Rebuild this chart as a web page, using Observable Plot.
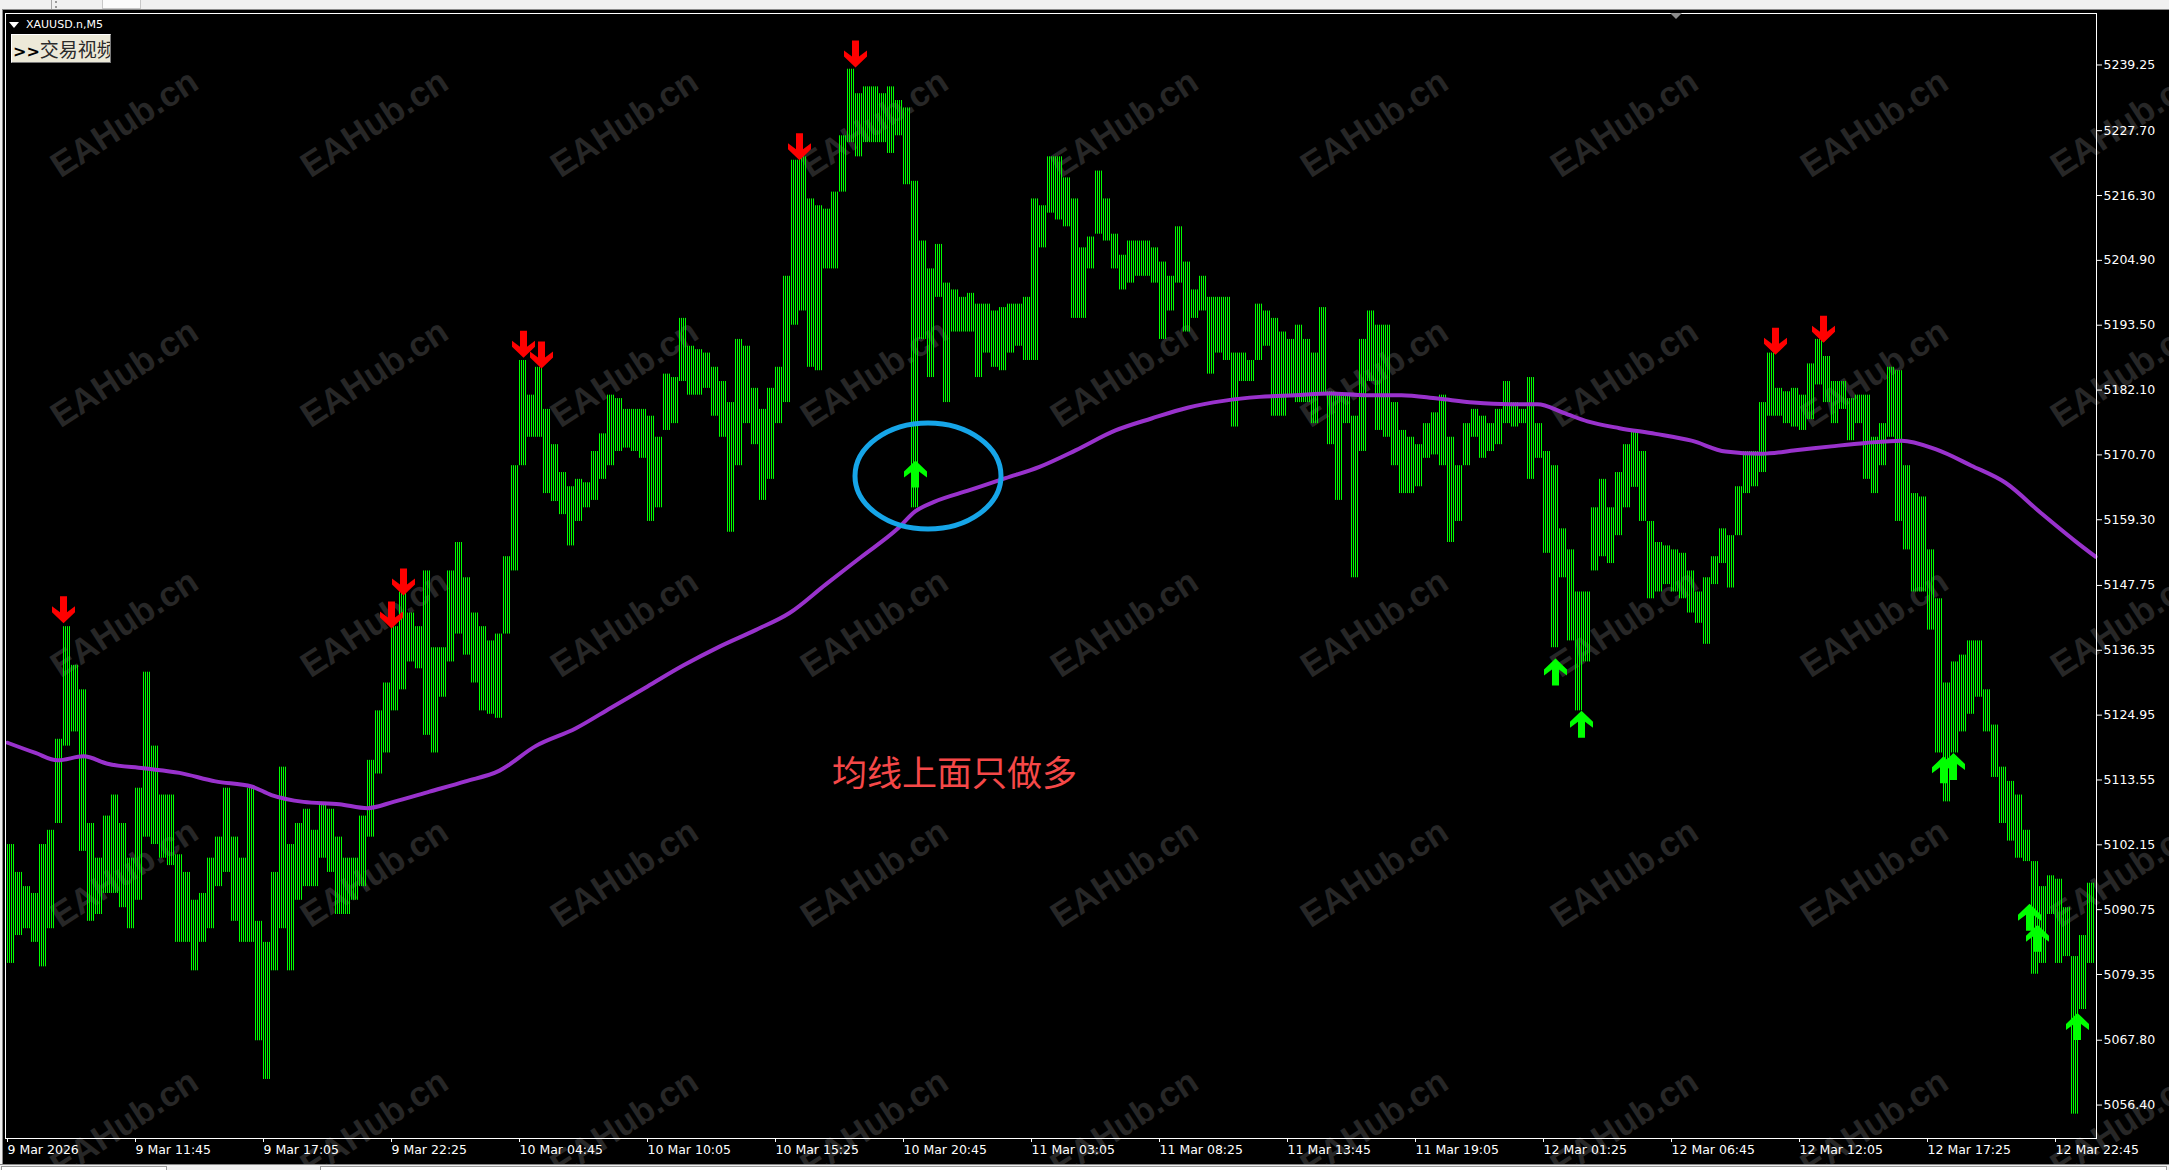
<!DOCTYPE html>
<html>
<head>
<meta charset="utf-8">
<script src="https://cdn.jsdelivr.net/npm/d3@7"></script>
<script src="https://cdn.jsdelivr.net/npm/@observablehq/plot@0.6"></script>
<style>
  html, body { margin: 0; padding: 0; background: #000; }
  body { width: 2169px; height: 1170px; overflow: hidden; position: relative; font-family: "DejaVu Sans", sans-serif; }
  #wm { position: absolute; left: 0; top: 0; width: 2169px; height: 1170px; z-index: 0; overflow: hidden; }
  .wmt { position: absolute; font-family: "Liberation Sans", Arial, sans-serif; font-weight: bold; font-size: 35px;
         color: #272727; white-space: nowrap; transform: translate(-50%, -50%) rotate(-33deg); }
  #chart { position: absolute; left: 0; top: 0; z-index: 1; }
  .chrome { position: absolute; z-index: 2; }
  #title { position: absolute; left: 9px; top: 18px; z-index: 3; color: #fff; font: 11px "DejaVu Sans", sans-serif; display: flex; align-items: center; }
  #tri { width: 0; height: 0; border-left: 5.5px solid transparent; border-right: 5.5px solid transparent; border-top: 6px solid #fff; margin-right: 7px; }
  #btn { position: absolute; left: 11px; top: 34px; width: 98px; height: 27px; z-index: 3; background: #ece9d8;
         border-top: 1px solid #fff; border-left: 1px solid #fff; border-right: 1px solid #7a7a7a; border-bottom: 1px solid #7a7a7a;
         font: 19px "Noto Sans CJK SC", sans-serif; color: #2a2a2a; line-height: 27px; white-space: nowrap; overflow: hidden; }
  #btn b { color: #000; font-weight: bold; font-family: "DejaVu Sans", sans-serif; font-size: 16px; margin-left: 1px; }
</style>
</head>
<body>
<svg width="0" height="0" style="position:absolute">
  <defs>
    <pattern id="barfill" patternUnits="userSpaceOnUse" x="0" y="0" width="2" height="8">
      <rect x="1" y="0" width="1" height="8" fill="#00ff00" shape-rendering="crispEdges"></rect>
    </pattern>
  </defs>
</svg>
<div id="wm"></div>
<div id="chart"></div>
<!-- window chrome -->
<div class="chrome" style="left:0;top:0;width:2169px;height:9px;background:#f0f0f0;"></div>
<div class="chrome" style="left:0;top:9px;width:2169px;height:1px;background:#8a8a8a;"></div>
<div class="chrome" style="left:51px;top:0;width:1px;height:9px;background:#a8a8a8;"></div>
<div class="chrome" style="left:55px;top:1px;width:2px;height:7px;border-left:2px dotted #9a9a9a;"></div>
<div class="chrome" style="left:102px;top:0;width:37px;height:8px;background:#fbfbfb;border:1px solid #c8c8c8;border-top:none;"></div>
<div class="chrome" style="left:0;top:0;width:2px;height:1170px;background:#f0f0f0;"></div>
<div class="chrome" style="left:2px;top:9px;width:1px;height:1155px;background:#8a8a8a;"></div>
<div class="chrome" style="left:0;top:1164px;width:2169px;height:6px;background:#f0f0f0;border-top:1px solid #8a8a8a;"></div>
<div class="chrome" style="left:1px;top:1166px;width:164px;height:4px;background:#fff;border:1px solid #9a9a9a;border-bottom:none;"></div>
<div class="chrome" style="left:320px;top:1166px;width:1845px;height:4px;background:#fff;border:1px solid #9a9a9a;border-bottom:none;"></div>
<div class="chrome" style="left:1670px;top:13px;width:0;height:0;border-left:6px solid transparent;border-right:6px solid transparent;border-top:6px solid #8c8c8c;"></div>
<div id="title"><div id="tri"></div>XAUUSD.n,M5</div>
<div id="btn"><b>&gt;&gt;</b>交易视频</div>
<script>
// ---- Data (XAUUSD.n M5, each entry = one 20-minute block of 4 M5 bars) ----
const hi = [
  5102.2, 5097.3, 5094.8, 5093.6, 5102.2, 5104.7, 5120.7, 5140.5, 5133.7, 5129.4,
  5105.9, 5099.8, 5107.2, 5110.9, 5105.9, 5099.8, 5112.1, 5132.5, 5119.5, 5110.9,
  5110.9, 5100.4, 5097.3, 5092.4, 5093.6, 5099.8, 5103.5, 5112.1, 5103.5, 5099.8,
  5112.1, 5088.7, 5085.0, 5097.3, 5115.8, 5102.2, 5105.9, 5108.4, 5104.7, 5109.6,
  5108.4, 5103.5, 5099.8, 5099.8, 5107.2, 5117.0, 5125.7, 5130.6, 5140.5, 5146.6,
  5142.9, 5140.5, 5150.3, 5136.8, 5136.8, 5150.3, 5155.3, 5149.1, 5142.9, 5140.5,
  5138.0, 5139.2, 5152.8, 5168.8, 5187.3, 5181.2, 5186.1, 5178.7, 5172.5, 5167.6,
  5165.1, 5166.4, 5165.8, 5171.3, 5174.4, 5181.2, 5180.6, 5178.7, 5178.7, 5178.7,
  5177.5, 5173.8, 5184.9, 5184.3, 5194.7, 5189.8, 5189.2, 5188.6, 5186.1, 5183.6,
  5179.9, 5191.0, 5189.8, 5182.4, 5178.7, 5182.4, 5186.1, 5202.1, 5222.5, 5223.1,
  5215.7, 5214.5, 5213.9, 5216.9, 5226.8, 5238.5, 5234.2, 5235.4, 5235.4, 5234.2,
  5235.4, 5233.0, 5231.7, 5218.8, 5208.3, 5203.4, 5207.7, 5200.9, 5199.7, 5198.4,
  5199.1, 5197.2, 5197.2, 5196.0, 5196.6, 5197.2, 5197.2, 5198.4, 5215.7, 5214.5,
  5223.1, 5223.1, 5219.4, 5215.7, 5207.1, 5209.0, 5220.6, 5215.7, 5209.5, 5205.8,
  5208.3, 5208.3, 5208.3, 5207.1, 5204.6, 5202.1, 5210.8, 5204.6, 5199.7, 5202.1,
  5198.4, 5198.4, 5198.4, 5188.6, 5188.6, 5187.3, 5197.2, 5196.0, 5194.7, 5192.3,
  5191.0, 5193.5, 5191.0, 5188.6, 5196.6, 5181.8, 5181.2, 5181.2, 5177.5, 5191.0,
  5196.0, 5193.5, 5193.5, 5179.9, 5175.0, 5173.8, 5172.5, 5176.2, 5178.1, 5181.2,
  5173.8, 5168.8, 5176.2, 5178.7, 5177.5, 5176.2, 5178.7, 5183.6, 5179.9, 5178.7,
  5184.3, 5176.2, 5171.3, 5168.8, 5157.7, 5154.0, 5146.6, 5146.6, 5161.4, 5166.4,
  5161.4, 5167.6, 5172.5, 5175.0, 5171.3, 5159.0, 5155.3, 5154.7, 5154.0, 5153.4,
  5150.3, 5146.6, 5149.1, 5152.8, 5157.7, 5156.5, 5165.1, 5171.3, 5171.3, 5179.9,
  5188.6, 5182.4, 5181.8, 5182.4, 5181.2, 5186.7, 5191.0, 5188.0, 5183.6, 5183.6,
  5180.6, 5181.2, 5181.2, 5173.8, 5176.2, 5186.1, 5185.5, 5168.8, 5163.9, 5163.3,
  5154.0, 5145.4, 5130.6, 5134.3, 5135.5, 5138.0, 5138.0, 5129.4, 5123.2, 5115.8,
  5113.3, 5110.9, 5104.7, 5099.2, 5094.8, 5096.7, 5096.1, 5091.1, 5082.5, 5086.2,
  5095.4
];
const lo = [
  5081.3, 5086.2, 5087.4, 5085.0, 5080.7, 5087.4, 5105.9, 5119.5, 5122.0, 5101.0,
  5088.7, 5089.9, 5093.6, 5093.6, 5091.1, 5087.4, 5092.4, 5103.5, 5102.2, 5099.8,
  5098.5, 5085.0, 5085.0, 5080.0, 5085.0, 5087.4, 5094.8, 5097.3, 5088.7, 5085.0,
  5085.0, 5067.7, 5060.9, 5080.0, 5087.4, 5080.0, 5092.4, 5094.8, 5094.8, 5099.8,
  5097.3, 5089.9, 5089.9, 5092.4, 5094.8, 5103.5, 5114.6, 5118.3, 5125.7, 5129.4,
  5134.3, 5133.1, 5121.4, 5118.3, 5128.1, 5134.3, 5139.2, 5135.5, 5130.6, 5125.7,
  5125.1, 5124.4, 5139.2, 5150.3, 5168.8, 5173.8, 5173.8, 5163.9, 5162.5, 5160.2,
  5154.7, 5159.0, 5161.4, 5162.7, 5166.4, 5168.8, 5171.3, 5171.9, 5171.3, 5170.1,
  5159.0, 5161.4, 5175.0, 5176.2, 5183.6, 5181.2, 5181.2, 5182.4, 5177.5, 5173.8,
  5157.1, 5168.8, 5176.2, 5172.5, 5162.7, 5166.4, 5176.2, 5179.9, 5193.5, 5196.0,
  5186.1, 5185.5, 5203.4, 5203.4, 5216.9, 5225.6, 5223.1, 5225.6, 5225.6, 5225.6,
  5223.7, 5226.8, 5218.2, 5161.4, 5191.0, 5184.3, 5198.4, 5179.9, 5192.3, 5192.3,
  5192.3, 5184.3, 5188.6, 5186.1, 5185.5, 5188.6, 5189.8, 5187.3, 5187.3, 5207.1,
  5213.2, 5212.0, 5210.8, 5194.7, 5194.7, 5203.4, 5209.5, 5208.3, 5203.4, 5199.7,
  5200.9, 5202.1, 5202.1, 5200.9, 5191.0, 5196.0, 5200.9, 5192.3, 5194.7, 5196.0,
  5184.9, 5188.6, 5187.3, 5175.6, 5183.6, 5183.6, 5187.3, 5189.8, 5177.5, 5177.5,
  5181.2, 5179.9, 5179.9, 5176.2, 5181.2, 5172.5, 5162.7, 5176.2, 5149.1, 5171.3,
  5183.6, 5175.0, 5173.8, 5168.8, 5163.9, 5163.9, 5165.1, 5170.1, 5170.7, 5168.8,
  5155.3, 5159.0, 5168.8, 5173.8, 5170.1, 5171.3, 5172.5, 5176.2, 5175.6, 5176.2,
  5166.4, 5170.1, 5153.4, 5136.8, 5149.1, 5138.0, 5125.7, 5134.3, 5150.3, 5152.8,
  5151.6, 5156.5, 5161.4, 5165.0, 5159.0, 5145.4, 5146.6, 5147.9, 5146.6, 5145.4,
  5142.9, 5141.1, 5137.4, 5147.9, 5151.6, 5147.3, 5156.5, 5163.9, 5165.1, 5167.6,
  5177.5, 5177.5, 5176.2, 5175.6, 5175.0, 5176.9, 5183.0, 5179.9, 5176.2, 5178.7,
  5173.2, 5176.2, 5166.4, 5163.9, 5168.8, 5173.8, 5159.0, 5154.0, 5146.6, 5146.6,
  5139.9, 5118.3, 5109.7, 5118.3, 5122.0, 5125.1, 5128.1, 5122.0, 5114.0, 5105.9,
  5102.8, 5099.8, 5099.2, 5079.4, 5081.3, 5089.9, 5081.3, 5082.5, 5054.8, 5073.2,
  5081.3
];
const barsPerBlock = 4;

// moving average (bar index, value)
const maBar = [0, 14, 25, 38, 50, 68, 86, 104, 122, 132, 148, 166, 180, 193, 211, 229, 246, 264, 284, 302,
  320, 338, 356, 374, 391, 409, 427, 445, 454, 463, 481, 499, 516, 534, 554, 572, 590, 608, 626, 644,
  661, 679, 697, 715, 733, 751, 765, 778, 790, 806, 824, 842, 859, 877, 894, 912, 929, 947, 964, 982,
  999, 1017, 1034, 1044];
const maVal = [5120.1, 5118.3, 5117.0, 5117.7, 5116.4, 5115.6, 5114.8, 5113.3, 5112.4, 5110.9, 5109.7, 5109.3, 5108.6, 5109.7, 5111.5, 5113.3, 5115.2, 5119.5, 5122.6, 5126.3,
  5130.0, 5133.7, 5137.0, 5139.9, 5142.9, 5147.9, 5152.8, 5157.7, 5160.8, 5162.4, 5164.5, 5166.6, 5168.6, 5171.5, 5175.0, 5177.1, 5179.0, 5180.2, 5180.9, 5181.2,
  5181.5, 5181.2, 5181.2, 5180.6, 5179.9, 5179.6, 5179.6, 5178.1, 5176.6, 5175.4, 5174.4, 5173.2, 5171.3, 5170.9, 5171.5, 5172.2, 5172.8, 5173.2, 5171.7, 5168.8,
  5165.8, 5160.4, 5155.5, 5152.8];

// signal arrows (bar index, price at arrow tip)
const sellBar = [28, 192, 198, 258, 267, 396, 424, 884, 908];
const sellPrice = [5141.1, 5140.2, 5146.0, 5187.8, 5185.9, 5222.5, 5238.8, 5188.3, 5190.4];
const buyBar = [454, 774, 787, 968, 973, 1011, 1015, 1035];
const buyPrice = [5169.7, 5134.9, 5125.7, 5117.7, 5118.3, 5091.8, 5088.1, 5072.6];

// axes
const yTicks = [5239.25, 5227.70, 5216.30, 5204.90, 5193.50, 5182.10, 5170.70, 5159.30, 5147.75,
  5136.35, 5124.95, 5113.55, 5102.15, 5090.75, 5079.35, 5067.80, 5056.40];
const xTickBar = [0, 64, 128, 192, 256, 320, 384, 448, 512, 576, 640, 704, 768, 832, 896, 960, 1024];
const xLabels = ["9 Mar 2026", "9 Mar 11:45", "9 Mar 17:05", "9 Mar 22:25", "10 Mar 04:45", "10 Mar 10:05",
  "10 Mar 15:25", "10 Mar 20:45", "11 Mar 03:05", "11 Mar 08:25", "11 Mar 13:45", "11 Mar 19:05",
  "12 Mar 01:25", "12 Mar 06:45", "12 Mar 12:05", "12 Mar 17:25", "12 Mar 22:45"];

// annotations
const noteText = "均线上面只做多";
const noteBar = 473.5, notePrice = 5114.4;
const circleBar = 460.5, circlePrice = 5166.9;

// ---- build ----
const bars = hi.map((h, k) => ({ x1: k * barsPerBlock - 0.5, x2: (k + 1) * barsPerBlock - 0.5, hi: h, lo: lo[k] }));
const ma = maBar.map((b, j) => ({ i: b, v: maVal[j] }));
const sells = sellBar.map((b, j) => ({ i: b, p: sellPrice[j] }));
const buys = buyBar.map((b, j) => ({ i: b, p: buyPrice[j] }));

function arrow(dir) {
  // tip at origin; dir = 1 -> pointing up (body below), -1 -> pointing down
  const pts = [[0, 0], [11.5, 11], [11.5, 17], [3.5, 11], [3.5, 27], [-3.5, 27], [-3.5, 11], [-11.5, 17], [-11.5, 11]];
  return {
    draw(ctx) {
      pts.forEach(([x, y], k) => k ? ctx.lineTo(x, y * dir) : ctx.moveTo(x, y * dir));
      ctx.closePath();
    }
  };
}

// watermarks
const wm = document.getElementById("wm");
for (let r = 0; r < 5; r++) for (let c = 0; c < 9; c++) {
  const d = document.createElement("div");
  d.className = "wmt";
  d.textContent = "EAHub.cn";
  d.style.left = (124 + 250 * c) + "px";
  d.style.top = (123 + 250 * r) + "px";
  wm.appendChild(d);
}

const chart = Plot.plot({
  width: 2169,
  height: 1170,
  marginLeft: 5,
  marginRight: 73,
  marginTop: 13,
  marginBottom: 32,
  x: { domain: [-1, 1044.5] },
  y: { domain: [5050.52, 5248.3] },
  style: { background: "transparent", color: "#fff", fontFamily: "DejaVu Sans, sans-serif", fontSize: "12.5px" },
  marks: [
    Plot.rect(bars, { x1: "x1", x2: "x2", y1: "lo", y2: "hi", fill: "url(#barfill)", inset: 0 }),
    Plot.line(ma, { x: "i", y: "v", stroke: "#9932cc", strokeWidth: 4, curve: "monotone-x" }),
    Plot.dot(sells, { x: "i", y: "p", symbol: arrow(-1), fill: "#ff0000", stroke: "none" }),
    Plot.dot(buys, { x: "i", y: "p", symbol: arrow(1), fill: "#00ff00", stroke: "none" }),
    Plot.text([noteText], { x: () => noteBar, y: () => notePrice, text: d => d, fill: "#f54848",
      fontSize: 35, fontFamily: "Noto Sans CJK SC, sans-serif" }),
    Plot.axisY({ anchor: "right", ticks: yTicks, tickFormat: d => d.toFixed(2), tickSize: 5, tickPadding: 2,
      label: null, fontSize: 12.5 }),
    Plot.axisX({ anchor: "bottom", ticks: xTickBar, tickFormat: d => xLabels[xTickBar.indexOf(d)], tickSize: 4,
      tickPadding: 3, textAnchor: "start", label: null, fontSize: 12.5 }),
    Plot.frame({ stroke: "#fff" })
  ]
});
document.getElementById("chart").appendChild(chart);

const sx = chart.scale("x"), sy = chart.scale("y");
d3.select(chart).append("ellipse")
  .attr("cx", sx.apply(circleBar))
  .attr("cy", sy.apply(circlePrice))
  .attr("rx", 73).attr("ry", 53)
  .attr("fill", "none").attr("stroke", "#16a5e8").attr("stroke-width", 5);
</script>
</body>
</html>
